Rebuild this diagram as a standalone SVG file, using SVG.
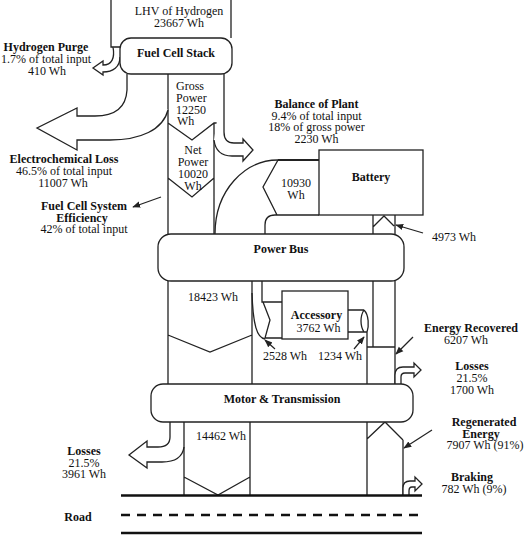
<svg xmlns="http://www.w3.org/2000/svg" width="527" height="535" viewBox="0 0 527 535">
<style>
text{font-family:"Liberation Serif","Times New Roman",serif;font-size:12px;fill:#111}
.b{font-weight:bold}
.m{text-anchor:middle}
.ln{fill:none;stroke:#222;stroke-width:1.3}
.fl{fill:#fff;stroke:#222;stroke-width:1.3}
.node{fill:#fff;stroke:#222;stroke-width:1.3}
.ar{fill:none;stroke:#222;stroke-width:1.2;marker-end:url(#ah)}
.road{fill:none;stroke:#111;stroke-width:2.6}
</style>
<defs>
<marker id="ah" viewBox="0 0 10 10" refX="9" refY="5" markerWidth="8" markerHeight="8" markerUnits="userSpaceOnUse" orient="auto"><path d="M0,1 L10,5 L0,9 z" fill="#222"/></marker>
</defs>
<g id="connectors">
<path class="ln" d="M111,0 L111,47 L120,47 M231,0 L231,38"/>
<path class="fl" d="M113,47 C115,58 112,65 103,65 L103,61 L93,68 L103,75 L103,72 C113,72 120,67 120,57"/>
<path class="ln" d="M168,74 L168,234 M214,123 L214,234 M168,123 L192,140 L214,123 L224,123 M168,178 L192,197 L214,178"/>
<path class="fl" d="M127,74 L127,90 C126,108 115,116 95,116 L77,116 L77,108 L37,128 L77,150 L77,140 L110,140 C140,140 163,130 168,110"/>
<path class="fl" d="M224,74 L224,132 Q224,143 234,143 L243,143 L243,139 L253,150 L243,161 L243,156 L232,156 Q216,156 214,140"/>
<path class="ln" d="M215,234 C215,190 245,160 278,160"/>
<path class="ln" d="M278,160 L319,160" style="stroke-width:2.2"/>
<path class="ln" d="M278,160 L263,187 L277,215 M265,234 L265,225 Q265,215 275,215 L319,215"/>
<path class="ln" d="M373,215 L373,234 M395,215 L395,234 M373,227 L384,216 L394,226"/>
<path class="ln" d="M168,281 L168,384 M252,281 L252,384 M168,335 L210,352 L252,335"/>
<path class="ln" d="M262,281 L262,302 L282,302 M263,302 L270,320 L265,338 L282,338 M252,293 C253,325 257,338 265,339"/>
<path class="ln" d="M348,310 L364,310 M348,332 L367,332 M364,310 C360,316 360,326 364,332 M364,310 C369,315 369,326 367,332 M367,332 L367,384"/>
<path class="ln" d="M373,281 L373,347 M367,347 L395,347 M395,281 L395,384"/>
<path class="fl" d="M395,384 L395,375 Q395,367 403,367 L414,367 L414,363 L421,370 L414,377 L414,373 L405,373 Q401,373 401,377 L401,384"/>
<path class="fl" d="M170,422 L170,437 Q170,447 158,447 L147,447 L147,441 L129,455 L147,468 L147,462 L162,462 Q182,462 184,447"/>
<path class="ln" d="M184,422 L184,495 M250,422 L250,495 M184,477 L218,495 L250,477"/>
<path class="ln" d="M367,422 L367,495 M403,440 L403,495 M367,439 L385,422 L403,440"/>
<path class="fl" d="M403,495 L403,488 Q403,481 410,481 L415,481 L415,477 L422,484 L415,491 L415,487 L412,487 Q409,487 409,491 L409,495"/>
<path class="road" d="M121,495.5 L422,495.5"/>
<path class="road" d="M121,515 L422,515" stroke-dasharray="9,7"/>
<path class="road" d="M121,533 L422,533"/>
<path class="ar" d="M161,197 L133,207"/>
<path class="ar" d="M423,233 L396,225"/>
<path class="ar" d="M275,349 L265,340"/>
<path class="ar" d="M354,349 L364,337"/>
<path class="ar" d="M413,337 L396,354"/>
<path class="ar" d="M432,430 L404,448"/>
</g>
<g id="lhv">
<text class="m" x="179" y="15">LHV of Hydrogen</text>
<text class="m" x="179" y="27">23667 Wh</text>
</g>
<g id="stack">
<rect class="node" x="120" y="38" width="112" height="36" rx="11"/>
<text class="b m" x="176" y="57">Fuel Cell Stack</text>
</g>
<g id="gross">
<text x="176" y="90">Gross</text>
<text x="176" y="102">Power</text>
<text x="176" y="113.5">12250</text>
<text x="177" y="125">Wh</text>
</g>
<g id="net">
<text class="m" x="193" y="154">Net</text>
<text class="m" x="193" y="166">Power</text>
<text class="m" x="193" y="177.5">10020</text>
<text class="m" x="193" y="190">Wh</text>
</g>
<g id="purge">
<text class="b m" x="46" y="51">Hydrogen Purge</text>
<text class="m" x="46" y="63">1.7% of total input</text>
<text class="m" x="47" y="75">410 Wh</text>
</g>
<g id="ecloss">
<text class="b m" x="64" y="163">Electrochemical Loss</text>
<text class="m" x="64" y="175">46.5% of total input</text>
<text class="m" x="63" y="187">11007 Wh</text>
</g>
<g id="fcse">
<text class="b m" x="84" y="210">Fuel Cell System</text>
<text class="b m" x="82" y="221.5">Efficiency</text>
<text class="m" x="84" y="233">42% of total input</text>
</g>
<g id="bop">
<text class="b m" x="316.5" y="108">Balance of Plant</text>
<text class="m" x="316.5" y="119.5">9.4% of total input</text>
<text class="m" x="316.5" y="131">18% of gross power</text>
<text class="m" x="316.5" y="143">2230 Wh</text>
</g>
<g id="charge">
<text class="m" x="296" y="187">10930</text>
<text class="m" x="296" y="198.5">Wh</text>
</g>
<g id="battery">
<rect class="node" x="319" y="150" width="104" height="65"/>
<text class="b m" x="371" y="181">Battery</text>
</g>
<g id="discharge">
<text x="432" y="241">4973 Wh</text>
</g>
<g id="bus">
<rect class="node" x="158" y="234" width="246" height="47" rx="13"/>
<text class="b m" x="281" y="253">Power Bus</text>
</g>
<g id="drive">
<text class="m" x="213" y="301">18423 Wh</text>
</g>
<g id="accessory">
<rect class="node" x="282" y="291" width="66" height="48"/>
<text class="b m" x="316.5" y="319">Accessory</text>
<text class="m" x="318.5" y="331.5">3762 Wh</text>
</g>
<g id="accflows">
<text class="m" x="285" y="360">2528 Wh</text>
<text class="m" x="340" y="360">1234 Wh</text>
</g>
<g id="recovered">
<text class="b m" x="471" y="331.5">Energy Recovered</text>
<text class="m" x="466" y="343.5">6207 Wh</text>
</g>
<g id="losses-r">
<text class="b m" x="472" y="370">Losses</text>
<text class="m" x="472" y="382">21.5%</text>
<text class="m" x="472" y="393.5">1700 Wh</text>
</g>
<g id="motor">
<rect class="node" x="151" y="384" width="262" height="38" rx="12"/>
<text class="b m" x="282" y="403">Motor &amp; Transmission</text>
</g>
<g id="wheel">
<text class="m" x="221" y="440">14462 Wh</text>
</g>
<g id="losses-l">
<text class="b m" x="84" y="455">Losses</text>
<text class="m" x="84" y="467">21.5%</text>
<text class="m" x="84" y="478">3961 Wh</text>
</g>
<g id="regen">
<text class="b m" x="484" y="426">Regenerated</text>
<text class="b m" x="481" y="437.5">Energy</text>
<text class="m" x="485" y="449">7907 Wh (91%)</text>
</g>
<g id="braking">
<text class="b m" x="472" y="481">Braking</text>
<text class="m" x="474" y="493">782 Wh (9%)</text>
</g>
<g id="road">
<text class="b m" x="78" y="521">Road</text>
</g>
</svg>
